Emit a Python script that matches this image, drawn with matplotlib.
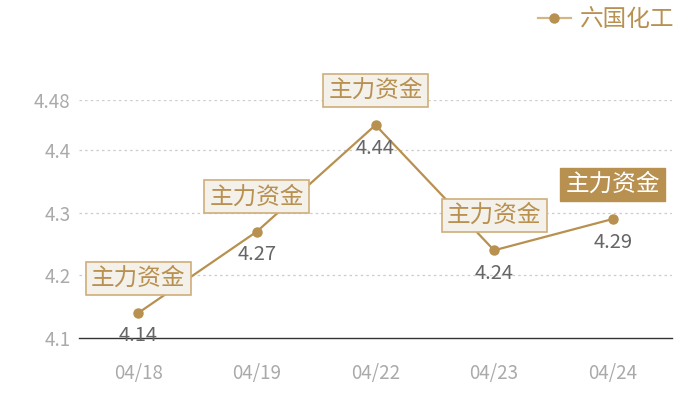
import matplotlib
matplotlib.use("Agg")
import matplotlib.pyplot as plt

plt.rcParams['font.family'] = ['Noto Sans CJK SC', 'DejaVu Sans']

# data
dates = ["04/18", "04/19", "04/22", "04/23", "04/24"]
prices = [4.14, 4.27, 4.44, 4.24, 4.29]
tags = ["主力资金", "主力资金", "主力资金", "主力资金", "主力资金"]
tag_filled = [False, False, False, False, True]
series_name = "六国化工"
yticks = [4.1, 4.2, 4.3, 4.4, 4.48]
ytick_labels = ["4.1", "4.2", "4.3", "4.4", "4.48"]

GOLD = "#b8904f"
BOX_FACE = "#f4f0ea"
BOX_EDGE = "#cfae7a"
GRAY = "#aaaaaa"

fig = plt.figure(figsize=(7, 4), dpi=100)
ax = fig.add_axes([79 / 700, 1 - 338 / 400, 593 / 700, 238 / 400])

x = list(range(len(dates)))
ax.plot(x, prices, color=GOLD, lw=1.6, marker="o", ms=6.5, zorder=3,
        label=series_name)

for i, (v, t, filled) in enumerate(zip(prices, tags, tag_filled)):
    ax.annotate(f"{v:.2f}", (i, v), xytext=(0, -9), textcoords="offset points",
                ha="center", va="top", fontsize=14.5, color="#666666", zorder=5)
    if filled:
        bbox = dict(boxstyle="square,pad=0.22", fc=GOLD, ec=GOLD, lw=1)
        col = "white"
    else:
        bbox = dict(boxstyle="square,pad=0.22", fc=BOX_FACE, ec=BOX_EDGE, lw=1.2)
        col = GOLD
    ax.annotate(t, (i, v), xytext=(0, 25), textcoords="offset points",
                ha="center", va="center", fontsize=17, color=col, bbox=bbox,
                zorder=6, annotation_clip=False)

ax.set_xlim(-0.5, len(dates) - 0.5)
ax.set_ylim(4.1, 4.48)
ax.set_xticks(x)
ax.set_xticklabels(dates)
ax.set_yticks(yticks)
ax.set_yticklabels(ytick_labels)
ax.tick_params(length=0, colors=GRAY, labelsize=13.5)
ax.tick_params(axis="x", pad=18)
ax.tick_params(axis="y", pad=6)

for yt in yticks[1:]:
    ax.axhline(yt, color="#cccccc", lw=0.9, ls=(0, (2, 2.5)), zorder=1)

for s in ["top", "right", "left"]:
    ax.spines[s].set_visible(False)
ax.spines["bottom"].set_color("#333333")
ax.spines["bottom"].set_linewidth(1)

leg = fig.legend(loc="upper right", bbox_to_anchor=(0.994, 1.032), frameon=False,
                 fontsize=17, handlelength=1.4, handletextpad=0.4, labelcolor=GOLD)
for h in leg.legend_handles:
    h.set_color("#d2b686")
    h.set_markerfacecolor(GOLD)
    h.set_markeredgecolor(GOLD)

fig.savefig("out.png", dpi=100)
